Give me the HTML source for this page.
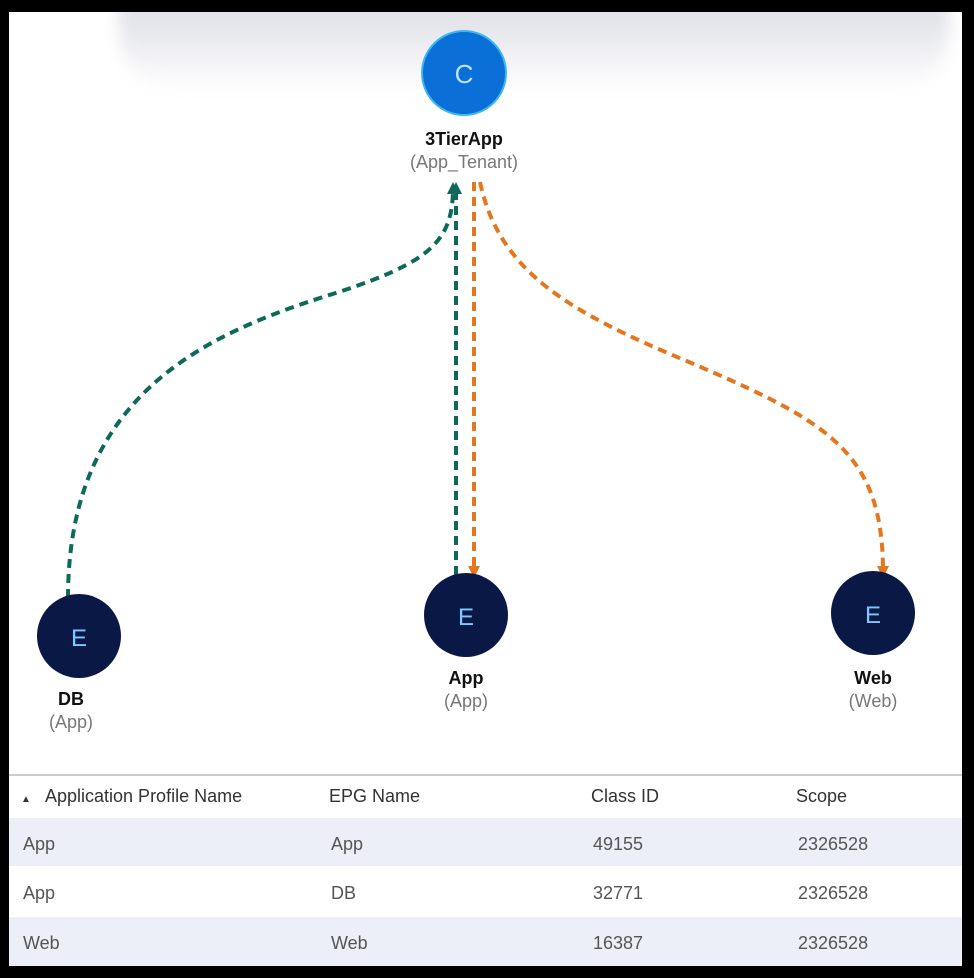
<!DOCTYPE html>
<html><head><style>
body{margin:0;width:974px;height:978px;background:#000;overflow:hidden;font-family:"Liberation Sans",sans-serif}
#p{position:absolute;left:9px;top:12px;width:953px;height:954px;background:#fff;overflow:hidden}
.sh{position:absolute;left:110px;top:-10px;width:830px;height:90px;background:linear-gradient(#dcdde4,#fff);border-radius:0 0 60px 60px;filter:blur(8px)}
</style></head><body>
<div id="p">
<div class="sh"></div>
<svg width="953" height="954" style="position:absolute;left:0;top:0">
<defs>
<marker id="g" markerUnits="userSpaceOnUse" markerWidth="12" markerHeight="12" refX="6" refY="6" orient="auto"><path d="M0,0L12,6L0,12z" fill="#0d6a5a"/></marker>
<marker id="o" markerUnits="userSpaceOnUse" markerWidth="12" markerHeight="12" refX="6" refY="6" orient="auto"><path d="M0,0L12,6L0,12z" fill="#e4771e"/></marker>
</defs>
<g fill="none" stroke-width="4" stroke-dasharray="9,6">
<path d="M59,586 C59,380 200,320 330,280 C420,250 444,230 444,176" stroke="#0d6a5a" marker-end="url(#g)"/>
<path d="M447,563 L447,176" stroke="#0d6a5a" marker-end="url(#g)"/>
<path d="M465,170 L465,560" stroke="#e4771e" marker-end="url(#o)"/>
<path d="M471,170 C490,260 560,300 680,350 C820,410 874,440 874,560" stroke="#e4771e" marker-end="url(#o)"/>
</g>
<circle cx="455" cy="61" r="42" fill="#0a6fd6" stroke="#3fb6f0" stroke-width="2"/>
<text x="455" y="71" font-size="26" fill="#bfe3ff" text-anchor="middle">C</text>
<circle cx="70" cy="624" r="42" fill="#0a1845"/><text x="70" y="634" font-size="24" fill="#7ec8ff" text-anchor="middle">E</text>
<circle cx="457" cy="603" r="42" fill="#0a1845"/><text x="457" y="613" font-size="24" fill="#7ec8ff" text-anchor="middle">E</text>
<circle cx="864" cy="601" r="42" fill="#0a1845"/><text x="864" y="611" font-size="24" fill="#7ec8ff" text-anchor="middle">E</text>
<g font-size="18" text-anchor="middle">
<text x="455" y="133" font-weight="bold" fill="#111">3TierApp</text>
<text x="455" y="156" fill="#777">(App_Tenant)</text>
<text x="62" y="693" font-weight="bold" fill="#111">DB</text>
<text x="62" y="716" fill="#777">(App)</text>
<text x="457" y="672" font-weight="bold" fill="#111">App</text>
<text x="457" y="695" fill="#777">(App)</text>
<text x="864" y="672" font-weight="bold" fill="#111">Web</text>
<text x="864" y="695" fill="#777">(Web)</text>
</g>
<line x1="0" y1="763" x2="953" y2="763" stroke="#ccc" stroke-width="2"/>
<rect x="0" y="806" width="953" height="48" fill="#eceef8"/>
<rect x="0" y="905" width="953" height="49" fill="#eceef8"/>
<g font-size="18" fill="#333">
<text x="12" y="790" font-size="10">▲</text>
<text x="36" y="790">Application Profile Name</text><text x="320" y="790">EPG Name</text><text x="582" y="790">Class ID</text><text x="787" y="790">Scope</text>
<g fill="#555">
<text x="14" y="838">App</text><text x="322" y="838">App</text><text x="584" y="838">49155</text><text x="789" y="838">2326528</text>
<text x="14" y="887">App</text><text x="322" y="887">DB</text><text x="584" y="887">32771</text><text x="789" y="887">2326528</text>
<text x="14" y="937">Web</text><text x="322" y="937">Web</text><text x="584" y="937">16387</text><text x="789" y="937">2326528</text>
</g></g>
</svg>
</div>
</body></html>
